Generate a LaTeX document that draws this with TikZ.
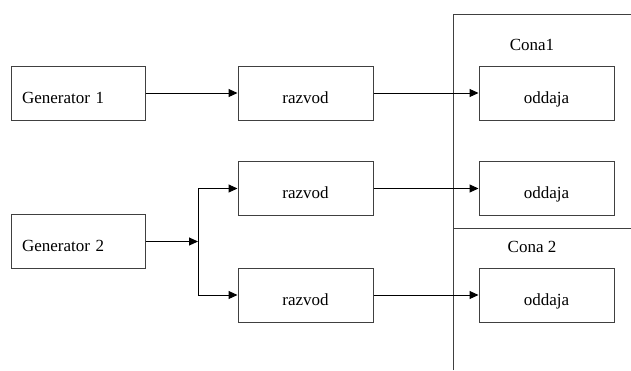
\documentclass[tikz,border=0pt]{standalone}
\usepackage{fontspec}
\setmainfont{Liberation Serif}
\usepackage{tikz}
\usetikzlibrary{shapes,arrows.meta,positioning}

\begin{document}
\begin{tikzpicture}[x=1pt,y=-1pt,font=\fontsize{17}{20}\selectfont]
  \tikzstyle{gen} = [rectangle, draw=black!75, line width=1pt, minimum width=134pt, minimum height=54pt, text width=112pt, align=left, text height=20pt, text depth=0pt]
  \tikzstyle{block} = [rectangle, draw=black!75, line width=1pt, minimum width=135pt, minimum height=54pt, text height=20pt, text depth=0pt]
  \tikzstyle{line} = [draw, -{Triangle[length=9pt,width=8pt]}, line width=1pt]
  \useasboundingbox (0,0) rectangle (631,370);

  % zone borders
  \draw[black!75, line width=1pt] (453,370) -- (453,14) -- (631,14);
  \draw[black!75, line width=1pt] (453,228) -- (631,228);
  \node (cona1) at (532,45) {Cona1};
  \node (cona2) at (532,247) {Cona 2};

  % generators
  \node[gen] (gen1) at (78,93) {Generator 1};
  \node[gen] (gen2) at (78,241.5) {Generator 2};
  \coordinate (split) at (198,241.5);

  % distribution
  \node[block] (raz1) at (305.5,93) {razvod};
  \node[block] (raz2) at (305.5,188.5) {razvod};
  \node[block] (raz3) at (305.5,295) {razvod};

  % output
  \node[block] (odd1) at (546.5,93) {oddaja};
  \node[block] (odd2) at (546.5,188.5) {oddaja};
  \node[block] (odd3) at (546.5,295) {oddaja};

  \draw[line] (gen1) -- (raz1);
  \draw[line] (gen2) -- (split);
  \draw[line] (split) |- (raz2);
  \draw[line] (split) |- (raz3);
  \draw[line] (raz1) -- (odd1);
  \draw[line] (raz2) -- (odd2);
  \draw[line] (raz3) -- (odd3);
\end{tikzpicture}
\end{document}
